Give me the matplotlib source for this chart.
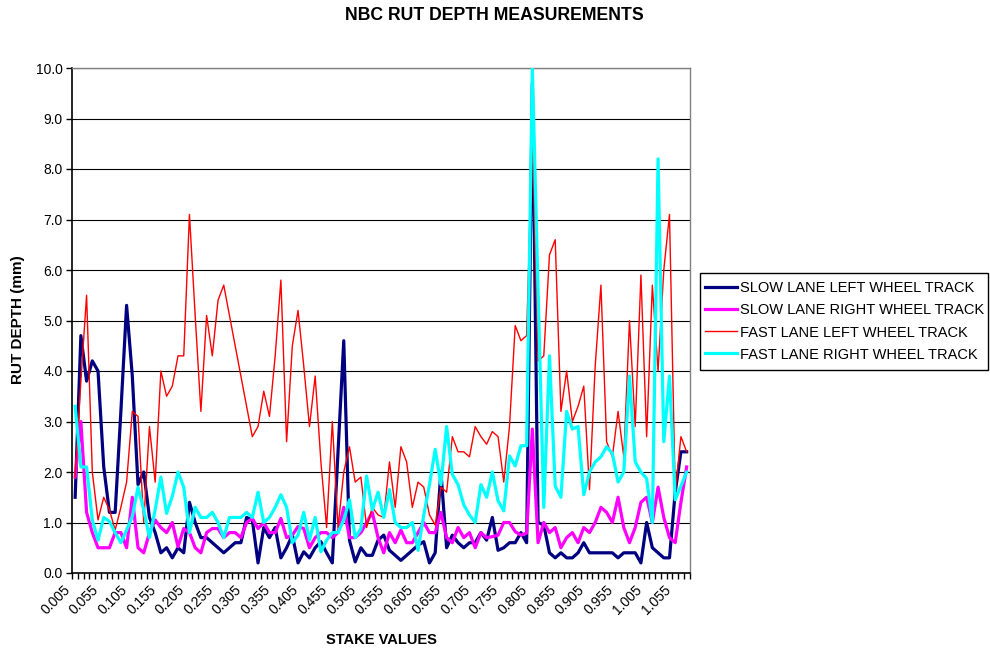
import numpy as np
import matplotlib
matplotlib.use("Agg")
import matplotlib.pyplot as plt
import matplotlib.transforms as mtransforms
from matplotlib.patches import Rectangle
from matplotlib.ticker import FixedLocator, MultipleLocator, FormatStrFormatter

plt.rcParams['font.family'] = ['Liberation Sans', 'DejaVu Sans']

# Stake positions (category axis, one reading every 0.01)
stakes = np.round(np.arange(0.005, 1.08, 0.01), 3)

slow_left = [
    1.5, 4.7, 3.8, 4.2, 4.0, 2.1, 1.2, 1.2, 3.2, 5.3,
    3.9, 1.75, 2.0, 1.1, 0.8, 0.4, 0.5, 0.3, 0.5, 0.4,
    1.4, 1.0, 0.7, 0.7, 0.6, 0.5, 0.4, 0.5, 0.6, 0.6,
    1.1, 1.05, 0.2, 0.9, 0.7, 0.9, 0.3, 0.5, 0.75, 0.2,
    0.42, 0.3, 0.5, 0.62, 0.4, 0.2, 2.4, 4.6, 0.65, 0.22,
    0.5, 0.35, 0.35, 0.65, 0.75, 0.45, 0.35, 0.25, 0.35, 0.45,
    0.55, 0.62, 0.2, 0.4, 2.0, 0.5, 0.75, 0.6, 0.5, 0.6,
    0.6, 0.8, 0.65, 1.1, 0.45, 0.5, 0.6, 0.6, 0.8, 0.6,
    9.7, 1.0, 0.95, 0.4, 0.3, 0.4, 0.3, 0.3, 0.4, 0.6,
    0.4, 0.4, 0.4, 0.4, 0.4, 0.3, 0.4, 0.4, 0.4, 0.2,
    1.0, 0.5, 0.4, 0.3, 0.3, 1.6, 2.4, 2.4,
]

slow_right = [
    1.9, 3.0, 1.2, 0.8, 0.5, 0.5, 0.5, 0.8, 0.8, 0.5,
    1.5, 0.5, 0.4, 0.8, 1.05, 0.9, 0.8, 1.0, 0.52, 0.88,
    0.8, 0.5, 0.4, 0.8, 0.88, 0.88, 0.7, 0.8, 0.8, 0.7,
    1.0, 1.08, 0.88, 1.0, 0.8, 0.8, 1.08, 0.7, 0.75, 0.92,
    0.88, 0.5, 0.7, 0.8, 0.8, 0.7, 0.8, 1.3, 0.7, 0.7,
    0.8, 1.0, 1.2, 0.7, 0.4, 0.8, 0.6, 0.85, 0.6, 0.6,
    0.8, 1.0, 0.8, 0.8, 1.2, 0.7, 0.6, 0.9, 0.7, 0.8,
    0.5, 0.8, 0.7, 0.72, 0.75, 1.0, 1.0, 0.82, 0.75, 0.79,
    2.85, 0.6, 1.0, 0.8, 0.9, 0.5, 0.7, 0.8, 0.6, 0.9,
    0.8, 1.0, 1.3, 1.2, 1.0, 1.5, 0.9, 0.6, 0.9, 1.4,
    1.5, 1.0, 1.7, 1.1, 0.7, 0.6, 1.4, 2.1,
]

fast_left = [
    1.9, 3.8, 5.5, 2.0, 1.05, 1.5, 1.25, 0.85, 1.3, 1.8,
    3.2, 3.1, 1.0, 2.9, 1.8, 4.0, 3.5, 3.7, 4.3, 4.3,
    7.1, 5.1, 3.2, 5.1, 4.3, 5.4, 5.7, 5.1, 4.5, 3.9,
    3.3, 2.7, 2.9, 3.6, 3.1, 4.3, 5.8, 2.6, 4.5, 5.2,
    4.1, 2.9, 3.9, 2.2, 0.9, 3.0, 0.9, 2.0, 2.5, 1.8,
    1.9, 0.9, 1.3, 1.15, 1.1, 2.2, 1.3, 2.5, 2.2, 1.3,
    1.8, 1.7, 1.15, 0.95, 1.7, 1.6, 2.7, 2.4, 2.4, 2.3,
    2.9, 2.7, 2.55, 2.8, 2.7, 1.8, 2.9, 4.9, 4.6, 4.7,
    8.7, 4.2, 4.3, 6.3, 6.6, 3.2, 4.0, 3.0, 3.3, 3.7,
    1.65, 4.1, 5.7, 2.6, 2.3, 3.2, 2.3, 5.0, 2.9, 5.9,
    2.7, 5.7, 4.0, 6.0, 7.1, 1.6, 2.7, 2.4,
]

fast_right = [
    3.3, 2.1, 2.1, 1.05, 0.65, 1.1, 1.02, 0.8, 0.6, 0.85,
    1.12, 1.7, 1.25, 0.7, 1.25, 1.9, 1.18, 1.52, 2.0, 1.7,
    0.8, 1.3, 1.1, 1.1, 1.2, 1.0, 0.7, 1.1, 1.1, 1.1,
    1.2, 1.1, 1.6, 1.0, 1.1, 1.3, 1.55, 1.3, 0.6, 0.75,
    1.2, 0.65, 1.1, 0.42, 0.65, 0.8, 0.8, 1.05, 1.45, 0.7,
    0.88, 1.92, 1.25, 1.6, 1.1, 1.65, 1.0, 0.9, 0.9, 1.0,
    0.45, 1.15, 1.75, 2.45, 1.75, 2.9, 1.95, 1.75, 1.35, 1.15,
    1.0, 1.75, 1.5, 2.0, 1.43, 1.23, 2.32, 2.12, 2.52, 2.52,
    10.0, 5.6, 1.3, 4.3, 1.72, 1.5, 3.2, 2.85, 2.9, 1.55,
    2.0, 2.2, 2.3, 2.5, 2.37, 1.8, 2.0, 3.9, 2.2, 2.0,
    1.87, 1.0, 8.2, 2.6, 3.9, 1.45, 1.72, 2.0,
]

series_labels = [
    'SLOW LANE LEFT WHEEL TRACK',
    'SLOW LANE RIGHT WHEEL TRACK',
    'FAST LANE LEFT WHEEL TRACK',
    'FAST LANE RIGHT WHEEL TRACK',
]
series_colors = ['#000080', '#FF00FF', '#FF0000', '#00FFFF']
series_widths = [2.3, 2.3, 1.0, 2.3]

W, H = 990, 650
fig = plt.figure(figsize=(W / 100, H / 100), dpi=100)
fig.patch.set_facecolor('white')

left, right, top, bottom = 72.3, 689.5, 68, 573
ax = fig.add_axes([left / W, 1 - bottom / H, (right - left) / W, (bottom - top) / H])

x = np.arange(len(stakes))
handles = []
for vals, lab, col, lw in zip([slow_left, slow_right, fast_left, fast_right],
                              series_labels, series_colors, series_widths):
    h, = ax.plot(x, vals, color=col, lw=lw, label=lab, solid_joinstyle='round', zorder=3)
    handles.append(h)

ax.set_xlim(-0.5, len(stakes) - 0.5)
ax.set_ylim(0, 10)

# y axis
ax.yaxis.set_major_locator(MultipleLocator(1))
ax.yaxis.set_major_formatter(FormatStrFormatter('%.1f'))
ax.tick_params(axis='y', direction='out', length=4, width=1, labelsize=10, pad=3)
ax.yaxis.grid(True, color='black', lw=0.8, zorder=1)
ax.set_axisbelow(True)

# x axis: ticks between categories, labels every fifth stake
label_idx = list(range(0, len(stakes), 5))
ax.xaxis.set_major_locator(FixedLocator(label_idx))
ax.set_xticklabels([f'{stakes[i]:.3f}' for i in label_idx])
ax.xaxis.set_minor_locator(FixedLocator(np.arange(-0.5, len(stakes), 1.0)))
ax.tick_params(axis='x', which='major', length=0, labelsize=10, pad=7)
ax.tick_params(axis='x', which='minor', direction='out', length=4, width=1)
shift = mtransforms.ScaledTranslation(-0.12, 0, fig.dpi_scale_trans)
for t in ax.get_xticklabels():
    t.set_rotation(45)
    t.set_ha('right')
    t.set_va('top')
    t.set_rotation_mode('anchor')
    t.set_transform(t.get_transform() + shift)

for side in ('left', 'bottom'):
    ax.spines[side].set_color('black')
    ax.spines[side].set_linewidth(1.2)
for side in ('top', 'right'):
    ax.spines[side].set_color('#808080')
    ax.spines[side].set_linewidth(1.0)

fig.text(494 / W, 1 - 16 / H, 'NBC RUT DEPTH MEASUREMENTS', ha='center', va='center',
         fontsize=12.7, fontweight='bold')
fig.text(18 / W, 1 - 320 / H, 'RUT DEPTH (mm)', ha='center', va='center', rotation=90,
         fontsize=11, fontweight='bold')
fig.text(381 / W, 1 - 640 / H, 'STAKE VALUES', ha='center', va='center',
         fontsize=10.5, fontweight='bold')

# Legend box drawn separately so its padding can differ from the entry layout
box_l, box_t, box_r, box_b = 700, 273, 988, 370
fig.patches.append(Rectangle((box_l / W, 1 - box_b / H), (box_r - box_l) / W,
                             (box_b - box_t) / H, transform=fig.transFigure,
                             fill=False, edgecolor='black', lw=1.0, zorder=5))
leg = fig.legend(handles, series_labels, loc='center left',
                 bbox_to_anchor=(box_l / W, 1 - (box_t + box_b) / 2 / H), frameon=False,
                 fontsize=10.5, handlelength=2.2, handletextpad=0.2,
                 borderpad=0.35, labelspacing=0.55, borderaxespad=0)

fig.savefig('out.png', dpi=100, facecolor='white')
